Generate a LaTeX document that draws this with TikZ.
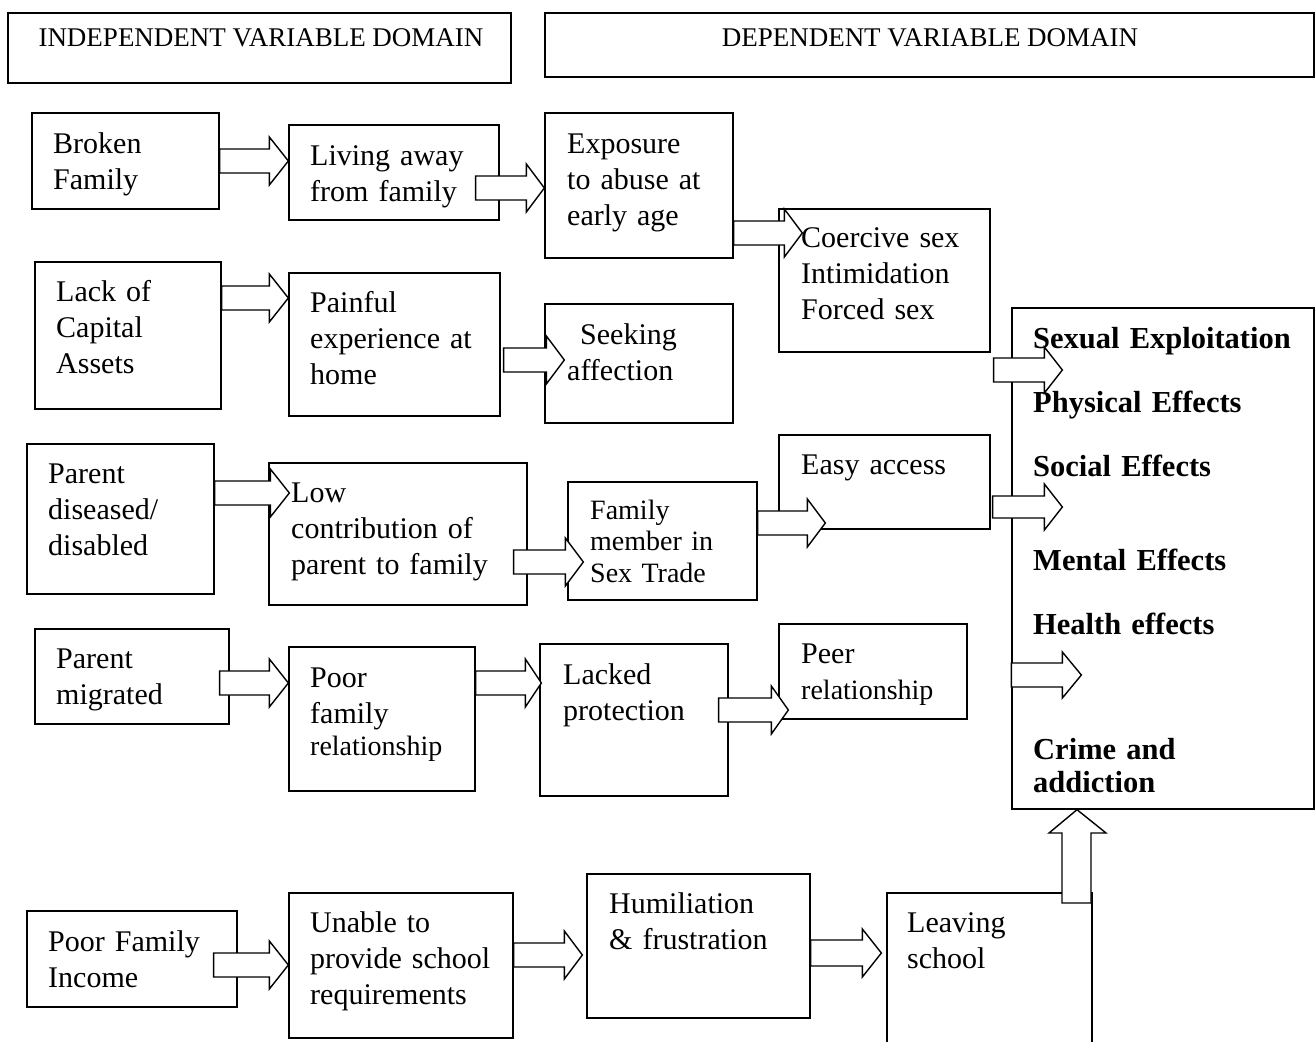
\documentclass[tikz,border=0pt]{standalone}
\usepackage{fontspec}
\setmainfont{Liberation Serif}
\usetikzlibrary{calc}
\tikzset{
  box/.style={draw, line width=1.3pt, rectangle, inner sep=0pt, fill=white},
  txt/.style={anchor=base west, inner sep=0pt, align=left, text width=300pt,
    font=\fontsize{30}{36}\selectfont},
  sm/.style={font=\fontsize{28}{31.5}\selectfont},
  bld/.style={anchor=base west, inner sep=0pt, align=left, text width=300pt,
    font=\fontsize{30.5}{33}\selectfont\bfseries},
  hd/.style={anchor=base, inner sep=0pt, font=\fontsize{27}{30}\selectfont},
  arr/.style={draw, fill=white, line width=1.4pt, line join=miter},
}
\newcommand\bx[5]{\node[box, minimum width={#4-#2}, minimum height={#5-#3}] (#1) at ({(#2+#4)/2},{(#3+#5)/2}) {};}
% start, tip, y, shaft half, head half, head length
\newcommand\harr[6]{%
  \draw[arr] let \p1=(#1), \p2=(#2) in
    (\x1,-#3pt+#4pt) -- (\x2-#6pt,-#3pt+#4pt) -- (\x2-#6pt,-#3pt+#5pt) -- (\x2,-#3pt)
    -- (\x2-#6pt,-#3pt-#5pt) -- (\x2-#6pt,-#3pt-#4pt) -- (\x1,-#3pt-#4pt) -- cycle;}
\begin{document}
\begin{tikzpicture}[x=1pt,y=-1pt]
\useasboundingbox[fill=white] (0,0) rectangle (1316,1041);
% boxes
\bx{hd1}{8}{13}{511}{83}
\bx{hd2}{545}{13}{1314}{77}
\bx{bf}{32}{113}{219}{209}
\bx{lf}{289}{125}{499}{220}
\bx{ex}{545}{113}{733}{258}
\bx{co}{779}{209}{990}{352}
\bx{lc}{35}{262}{221}{409}
\bx{pa}{289}{273}{500}{416}
\bx{se}{545}{304}{733}{423}
\bx{pd}{27}{444}{214}{594}
\bx{lo}{269}{463}{527}{605}
\bx{fm}{568}{482}{757}{600}
\bx{ea}{779}{435}{990}{529}
\bx{pm}{35}{629}{229}{724}
\bx{pf}{289}{647}{475}{791}
\bx{lp}{540}{644}{728}{796}
\bx{pr}{779}{624}{967}{719}
\bx{pi}{27}{911}{237}{1007}
\bx{un}{289}{893}{513}{1038}
\bx{hu}{587}{874}{810}{1018}
\bx{ls}{887}{893}{1092}{1090}
\bx{big}{1012}{308}{1314}{809}
% block arrows
\harr{bf.east}{lf.west}{161}{12}{24}{19}
\harr{$(lf.east)+(-24,0)$}{ex.west}{188}{12}{24}{18}
\harr{ex.east}{$(co.west)+(24,0)$}{233}{12}{24}{18}
\harr{$(co.east)+(3,0)$}{$(big.west)+(51,0)$}{370}{12}{23}{18}
\harr{lc.east}{pa.west}{298}{12}{24}{19}
\harr{$(pa.east)+(3,0)$}{$(se.west)+(20,0)$}{360}{12}{24}{18}
\harr{pd.east}{$(lo.west)+(21,0)$}{493}{12}{24}{19}
\harr{$(lo.east)+(-14,0)$}{$(fm.west)+(16,0)$}{562}{12}{24}{18}
\harr{fm.east}{$(ea.west)+(47,0)$}{523}{12}{24}{18}
\harr{$(ea.east)+(2,0)$}{$(big.west)+(51,0)$}{507}{11}{23}{18}
\harr{big.west}{$(big.west)+(70,0)$}{675}{12}{23}{19}
\harr{$(pm.east)+(-10,0)$}{pf.west}{683}{12}{24}{19}
\harr{pf.east}{$(lp.west)+(2,0)$}{683}{12}{24}{16}
\harr{$(lp.east)+(-10,0)$}{$(pr.west)+(10,0)$}{710}{12}{24}{17}
\harr{$(pi.east)+(-24,0)$}{un.west}{965}{12}{24}{19}
\harr{un.east}{$(hu.west)+(-4,0)$}{955}{12}{24}{18}
\harr{hu.east}{$(ls.west)+(-5,0)$}{953}{13}{24}{19}
\draw[arr] let \p1=(big.south) in
  (1062pt,-903pt) -- (1062pt,-833pt) -- (1049pt,-833pt) -- (1077pt,\y1)
  -- (1106pt,-833pt) -- (1091pt,-833pt) -- (1091pt,-903pt) -- cycle;
% header texts
\node[hd] (thd1) at (261,47) {INDEPENDENT VARIABLE DOMAIN};
\node[hd] (thd2) at (930,47) {DEPENDENT VARIABLE DOMAIN};
% box texts
\node[txt] (tbf) at (53,153) {Broken\\Family};
\node[txt] (tlf) at (310,165) {Living away\\from family};
\node[txt] (tex) at (567,153) {Exposure\\to abuse at\\early age};
\node[txt] (tco) at (801,247) {Coercive sex\\Intimidation\\Forced sex};
\node[txt] (tlc) at (56,301) {Lack of\\Capital\\Assets};
\node[txt] (tpa) at (310,312) {Painful\\experience at\\home};
\node[txt] (tse) at (567,344) {\hspace*{13pt}Seeking\\affection};
\node[txt] (tpd) at (48,483) {Parent\\diseased/\\disabled};
\node[txt] (tlo) at (291,502) {Low\\contribution of\\parent to family};
\node[txt,sm] (tfm) at (590,519) {Family\\member in\\Sex Trade};
\node[txt] (tea) at (801,474) {Easy access};
\node[txt] (tpm) at (56,668) {Parent\\migrated};
\node[txt] (tpf) at (310,687) {Poor\\family\\[-4pt]{\fontsize{28}{31}\selectfont relationship}};
\node[txt] (tlp) at (563,684) {Lacked\\protection};
\node[txt] (tpr) at (801,663) {Peer\\{\fontsize{28}{31}\selectfont relationship}};
\node[txt] (tpi) at (48,951) {Poor Family\\Income};
\node[txt] (tun) at (310,932) {Unable to\\provide school\\requirements};
\node[txt] (thu) at (609,913) {Humiliation\\\& frustration};
\node[txt] (tls) at (907,932) {Leaving\\school};
% outcome texts
\node[bld] (tb1) at (1033,348) {Sexual Exploitation};
\node[bld] (tb2) at (1033,412) {Physical Effects};
\node[bld] (tb3) at (1033,476) {Social Effects};
\node[bld] (tb4) at (1033,570) {Mental Effects};
\node[bld] (tb5) at (1033,634) {Health effects};
\node[bld] (tb6) at (1033,759) {Crime and\\addiction};
\end{tikzpicture}
\end{document}
